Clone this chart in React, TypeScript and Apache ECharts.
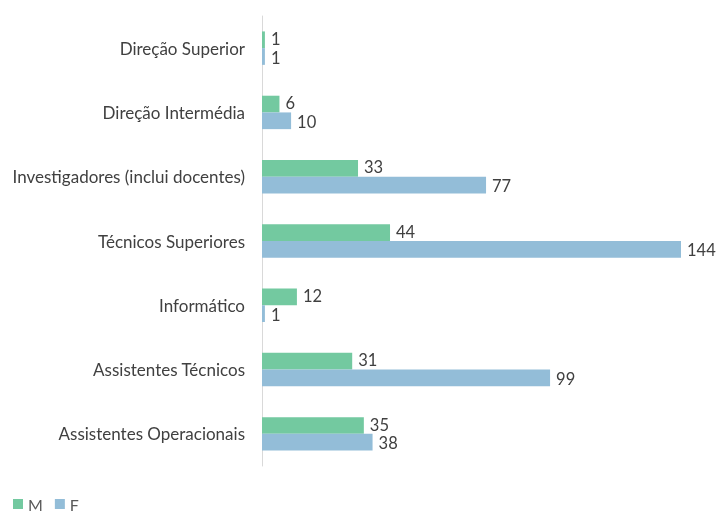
import React, { useEffect, useRef } from "react";
import * as echarts from "echarts";

const categories = [
  "Direção Superior",
  "Direção Intermédia",
  "Investigadores (inclui docentes)",
  "Técnicos Superiores",
  "Informático",
  "Assistentes Técnicos",
  "Assistentes Operacionais",
];
const valuesM = [1, 6, 33, 44, 12, 31, 35];
const valuesF = [1, 10, 77, 144, 1, 99, 38];

const FONT = "Lato, 'Roboto', sans-serif";

export default function App() {
  const ref = useRef<HTMLDivElement>(null);
  useEffect(() => {
    if (!ref.current) return;
    const chart = echarts.init(ref.current, undefined, { renderer: "svg" });
    const labelStyle = {
      show: true,
      position: "right" as const,
      distance: 6,
      color: "#404040",
      fontSize: 16.5,
      lineHeight: 14,
      fontFamily: FONT,
    };
    chart.setOption({
      animation: false,
      textStyle: { fontFamily: FONT },
      grid: { left: 262, top: 16, width: 419, height: 450, containLabel: false },
      legend: {
        left: 8,
        top: 491,
        itemWidth: 10,
        itemHeight: 10,
        itemGap: 12,
        icon: "rect",
        textStyle: { color: "#595959", fontSize: 16, fontFamily: FONT },
        data: ["M", "F"],
      },
      xAxis: {
        type: "value",
        min: 0,
        max: 144,
        show: false,
      },
      yAxis: {
        type: "category",
        inverse: true,
        data: categories,
        axisLine: { show: true, lineStyle: { color: "#d9d9d9", width: 1 } },
        axisTick: { show: false },
        axisLabel: { color: "#404040", fontSize: 17, fontFamily: FONT, margin: 17 },
      },
      series: [
        {
          name: "M",
          type: "bar",
          data: valuesM,
          barGap: "0%",
          barCategoryGap: "48%",
          itemStyle: { color: "#73C9A0" },
          label: { ...labelStyle, offset: [0, -1] },
        },
        {
          name: "F",
          type: "bar",
          data: valuesF,
          itemStyle: { color: "#93BDD8" },
          label: { ...labelStyle, offset: [0, 1] },
        },
      ],
    });
    return () => chart.dispose();
  }, []);
  return (
    <div
      ref={ref}
      style={{ position: "fixed", left: 0, top: 0, width: 718, height: 513 }}
    />
  );
}
